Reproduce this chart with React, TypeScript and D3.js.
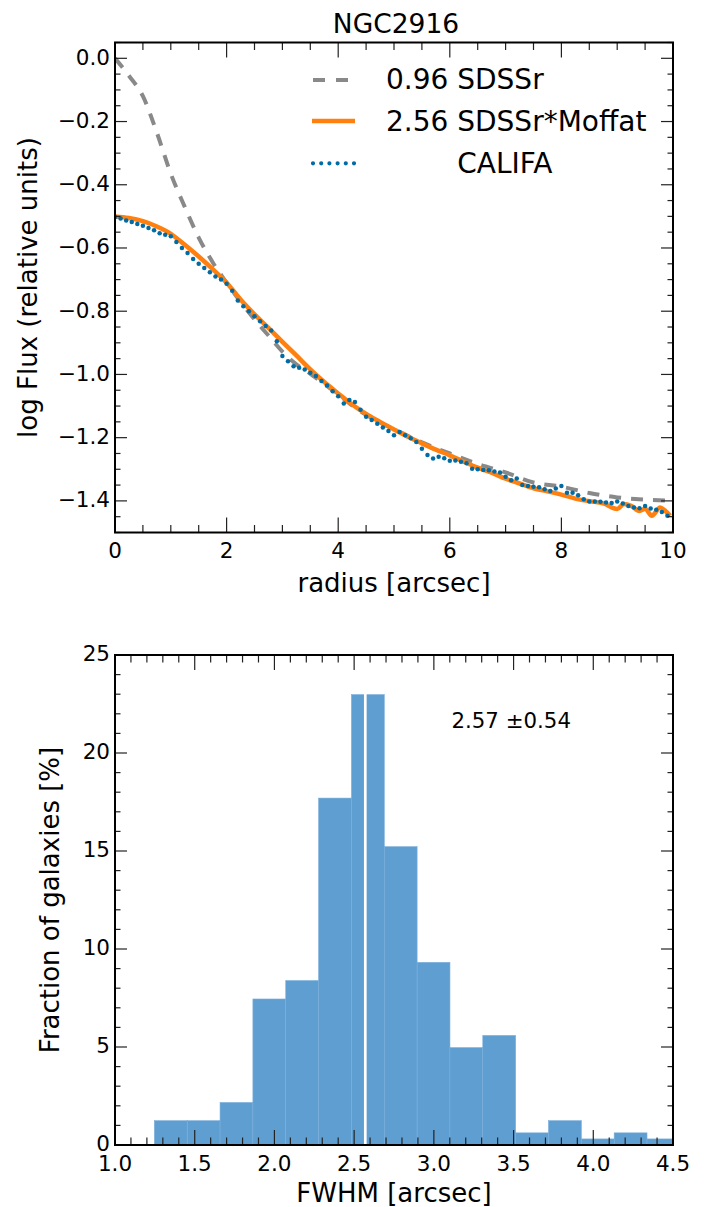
import React from "react";
import * as d3 from "d3";

// ---------- Top panel data (NGC2916 radial profile) ----------
const califaRadius = [
  0.0, 0.1, 0.2, 0.3, 0.4, 0.5, 0.6, 0.7, 0.8, 0.9,
  1.0, 1.1, 1.2, 1.3, 1.4, 1.5, 1.6, 1.7, 1.8, 1.9,
  2.0, 2.1, 2.2, 2.3, 2.4, 2.5, 2.6, 2.7, 2.8, 2.9,
  3.0, 3.1, 3.2, 3.3, 3.4, 3.5, 3.6, 3.7, 3.8, 3.9,
  4.0, 4.1, 4.2, 4.3, 4.4, 4.5, 4.6, 4.7, 4.8, 4.9,
  5.0, 5.1, 5.2, 5.3, 5.4, 5.5, 5.6, 5.7, 5.8, 5.9,
  6.0, 6.1, 6.2, 6.3, 6.4, 6.5, 6.6, 6.7, 6.8, 6.9,
  7.0, 7.1, 7.2, 7.3, 7.4, 7.5, 7.6, 7.7, 7.8, 7.9,
  8.0, 8.1, 8.2, 8.3, 8.4, 8.5, 8.6, 8.7, 8.8, 8.9,
  9.0, 9.1, 9.2, 9.3, 9.4, 9.5, 9.6, 9.7, 9.8, 9.9,
];
const califaFlux = [
  -0.502, -0.507, -0.513, -0.518, -0.524, -0.530, -0.537, -0.544, -0.553, -0.558,
  -0.563, -0.581, -0.600, -0.616, -0.635, -0.650, -0.663, -0.677, -0.690, -0.700,
  -0.713, -0.735, -0.766, -0.784, -0.800, -0.816, -0.832, -0.847, -0.861, -0.895,
  -0.942, -0.958, -0.974, -0.979, -0.984, -0.995, -1.005, -1.021, -1.035, -1.053,
  -1.069, -1.092, -1.081, -1.087, -1.112, -1.134, -1.144, -1.156, -1.168, -1.179,
  -1.192, -1.182, -1.192, -1.202, -1.214, -1.235, -1.255, -1.266, -1.260, -1.265,
  -1.273, -1.272, -1.276, -1.281, -1.298, -1.300, -1.302, -1.303, -1.307, -1.310,
  -1.324, -1.335, -1.329, -1.350, -1.353, -1.355, -1.357, -1.363, -1.369, -1.361,
  -1.353, -1.374, -1.374, -1.382, -1.395, -1.402, -1.402, -1.403, -1.405, -1.407,
  -1.402, -1.408, -1.416, -1.421, -1.423, -1.416, -1.424, -1.428, -1.435, -1.447,
];

const moffatRadius = [
  0, 0.25, 0.5, 0.75, 1.0, 1.25, 1.5, 1.75, 2.0, 2.25, 2.5, 2.75, 3.0, 3.25, 3.5,
  3.75, 4.0, 4.25, 4.5, 4.75, 5.0, 5.25, 5.5, 5.75, 6.0, 6.25, 6.5, 6.75, 7.0,
  7.25, 7.5, 7.75, 8.0, 8.25, 8.5, 8.75, 9.0, 9.12, 9.25, 9.4, 9.5, 9.62, 9.77,
  9.85, 9.95,
];
const moffatFlux = [
  -0.5, -0.505, -0.515, -0.532, -0.555, -0.59, -0.627, -0.667, -0.71, -0.763,
  -0.81, -0.853, -0.897, -0.94, -0.984, -1.024, -1.06, -1.095, -1.125, -1.15,
  -1.174, -1.197, -1.218, -1.238, -1.256, -1.276, -1.295, -1.311, -1.33, -1.345,
  -1.36, -1.37, -1.38, -1.393, -1.401, -1.408, -1.426, -1.41, -1.416, -1.432,
  -1.425, -1.447, -1.421, -1.43, -1.447,
];

const sdssRadius = [
  0, 0.25, 0.5, 0.75, 1.0, 1.25, 1.5, 1.75, 2.0, 2.25, 2.5, 2.75, 3.0, 3.25, 3.5,
  3.75, 4.0, 4.25, 4.5, 4.75, 5.0, 5.5, 6.0, 6.5, 7.0, 7.5, 8.0, 8.5, 9.0, 9.5, 10.0,
];
const sdssFlux = [
  0.0, -0.055, -0.12, -0.235, -0.365, -0.47, -0.567, -0.645, -0.71, -0.77,
  -0.826, -0.877, -0.928, -0.968, -0.998, -1.03, -1.063, -1.098, -1.128, -1.152,
  -1.173, -1.215, -1.25, -1.283, -1.31, -1.342, -1.355, -1.375, -1.389, -1.396, -1.4,
];

const legendLabels = ["0.96 SDSSr", "2.56 SDSSr*Moffat", "        CALIFA"];

// ---------- Bottom panel data (FWHM histogram) ----------
const binEdges = [
  1.247, 1.453, 1.659, 1.865, 2.071, 2.277, 2.483, 2.689, 2.895, 3.101, 3.307,
  3.513, 3.719, 3.925, 4.131, 4.337, 4.543,
];
const binFractions = [
  1.24, 1.24, 2.17, 7.45, 8.39, 17.7, 22.98, 15.22, 9.32, 4.97, 5.59, 0.62, 1.24,
  0.31, 0.62, 0.31,
];
const fwhmMean = 2.57;
const fwhmStd = 0.54;

// ---------- styling ----------
const FONT = "'DejaVu Sans', 'Bitstream Vera Sans', sans-serif";
const TICK_FONT = 21.5;
const LABEL_FONT = 26;
const C_BLUE = "#006BA4";
const C_ORANGE = "#FF800E";
const C_GRAY = "#898989";
const C_HIST = "#5F9ED1";

type Box = { left: number; right: number; top: number; bottom: number };

function Frame({
  box, xs, ys, xMajor, xMinor, yMajor, yMinor, xFmt, yFmt,
}: {
  box: Box;
  xs: d3.ScaleLinear<number, number>;
  ys: d3.ScaleLinear<number, number>;
  xMajor: number[]; xMinor: number[]; yMajor: number[]; yMinor: number[];
  xFmt: (v: number) => string; yFmt: (v: number) => string;
}) {
  const tk = "#222";
  const XMAJ = 15, XMIN = 7.5, YMAJ = 12, YMIN = 5.5;
  const els: React.ReactNode[] = [];
  xMinor.forEach((v, i) => {
    const x = xs(v);
    els.push(<line key={"xm" + i} x1={x} x2={x} y1={box.bottom} y2={box.bottom - XMIN} stroke={tk} strokeWidth={1.2} />);
    els.push(<line key={"xmt" + i} x1={x} x2={x} y1={box.top} y2={box.top + XMIN} stroke={tk} strokeWidth={1.2} />);
  });
  xMajor.forEach((v, i) => {
    const x = xs(v);
    els.push(<line key={"xM" + i} x1={x} x2={x} y1={box.bottom} y2={box.bottom - XMAJ} stroke={tk} strokeWidth={1.2} />);
    els.push(<line key={"xMt" + i} x1={x} x2={x} y1={box.top} y2={box.top + XMAJ} stroke={tk} strokeWidth={1.2} />);
    els.push(
      <text key={"xl" + i} x={x} y={box.bottom + 25.5} textAnchor="middle" fontSize={TICK_FONT} fontFamily={FONT} fill="#000">
        {xFmt(v)}
      </text>
    );
  });
  yMinor.forEach((v, i) => {
    const y = ys(v);
    els.push(<line key={"ym" + i} x1={box.left} x2={box.left + YMIN} y1={y} y2={y} stroke={tk} strokeWidth={1.2} />);
    els.push(<line key={"ymr" + i} x1={box.right} x2={box.right - YMIN} y1={y} y2={y} stroke={tk} strokeWidth={1.2} />);
  });
  yMajor.forEach((v, i) => {
    const y = ys(v);
    els.push(<line key={"yM" + i} x1={box.left} x2={box.left + YMAJ} y1={y} y2={y} stroke={tk} strokeWidth={1.2} />);
    els.push(<line key={"yMr" + i} x1={box.right} x2={box.right - YMAJ} y1={y} y2={y} stroke={tk} strokeWidth={1.2} />);
    els.push(
      <text key={"yl" + i} x={box.left - 5} y={y + 6.3} textAnchor="end" fontSize={TICK_FONT} fontFamily={FONT} fill="#000">
        {yFmt(v)}
      </text>
    );
  });
  els.push(
    <rect key="spine" x={box.left} y={box.top} width={box.right - box.left} height={box.bottom - box.top} fill="none" stroke="#000" strokeWidth={2} />
  );
  return <g>{els}</g>;
}

function near(a: number, b: number) {
  return Math.abs(a - b) < 1e-6;
}

export default function App() {
  // ---------- top panel ----------
  const b1: Box = { left: 115, right: 673, top: 42.5, bottom: 532.5 };
  const x1 = d3.scaleLinear().domain([0, 10]).range([b1.left, b1.right]);
  const y1 = d3.scaleLinear().domain([-1.5, 0.05]).range([b1.bottom, b1.top]);
  const x1Major = x1.ticks(5);
  const x1Minor = x1.ticks(20).filter((v) => !x1Major.some((m) => near(m, v)));
  const y1Major = d3.range(-1.4, 0.01, 0.2).map((v) => +v.toFixed(2));
  const y1Minor = y1.ticks(30).filter((v) => !y1Major.some((m) => near(m, v)));

  const line = d3
    .line<[number, number]>()
    .x((d) => x1(d[0]))
    .y((d) => y1(d[1]))
    .curve(d3.curveMonotoneX);
  const sdssPts = sdssRadius.map((r, i) => [r, sdssFlux[i]] as [number, number]);
  const moffatPts = moffatRadius.map((r, i) => [r, moffatFlux[i]] as [number, number]);

  // ---------- bottom panel ----------
  const b2: Box = { left: 115, right: 673, top: 655, bottom: 1145 };
  const x2 = d3.scaleLinear().domain([1.0, 4.5]).range([b2.left, b2.right]);
  const y2 = d3.scaleLinear().domain([0, 25]).range([b2.bottom, b2.top]);
  const x2Major = x2.ticks(7);
  const x2Minor = x2.ticks(35).filter((v) => !x2Major.some((m) => near(m, v)));
  const y2Major = y2.ticks(5);
  const y2Minor = y2.ticks(25).filter((v) => !y2Major.some((m) => near(m, v)));

  const legendRows = [80, 121, 163.3];
  const legendText = [89, 130.7, 172.5];

  return (
    <svg
      width={706}
      height={1207}
      viewBox="0 0 706 1207"
      style={{ position: "absolute", left: 0, top: 0, display: "block", background: "#fff" }}
      fontFamily={FONT}
    >
      <rect x={0} y={0} width={706} height={1207} fill="#fff" />
      <defs>
        <clipPath id="clipTop">
          <rect x={b1.left} y={b1.top} width={b1.right - b1.left} height={b1.bottom - b1.top} />
        </clipPath>
        <clipPath id="clipBot">
          <rect x={b2.left} y={b2.top} width={b2.right - b2.left} height={b2.bottom - b2.top} />
        </clipPath>
      </defs>

      {/* ===== Top panel ===== */}
      <text x={(b1.left + b1.right) / 2 + 2} y={33} textAnchor="middle" fontSize={26.5} fill="#000">
        NGC2916
      </text>
      <g clipPath="url(#clipTop)">
        <path d={line(sdssPts) || ""} fill="none" stroke={C_GRAY} strokeWidth={4} strokeDasharray="12 10" />
        <path d={line(moffatPts) || ""} fill="none" stroke={C_ORANGE} strokeWidth={4.5} strokeLinejoin="round" />
        {califaRadius.map((r, i) => (
          <circle key={"c" + i} cx={x1(r)} cy={y1(califaFlux[i])} r={2.25} fill={C_BLUE} />
        ))}
      </g>

      {/* legend */}
      <line x1={313} x2={355} y1={legendRows[0]} y2={legendRows[0]} stroke={C_GRAY} strokeWidth={4} strokeDasharray="12 11" />
      <line x1={312} x2={355} y1={legendRows[1]} y2={legendRows[1]} stroke={C_ORANGE} strokeWidth={4.5} />
      <line x1={313} x2={354} y1={legendRows[2]} y2={legendRows[2]} stroke={C_BLUE} strokeWidth={4.2} strokeDasharray="0 8.2" strokeLinecap="round" />
      {legendLabels.map((l, i) => (
        <text key={"lg" + i} x={386} y={legendText[i]} fontSize={28} fill="#000" style={{ whiteSpace: "pre" }}>
          {l}
        </text>
      ))}

      <Frame
        box={b1}
        xs={x1}
        ys={y1}
        xMajor={x1Major}
        xMinor={x1Minor}
        yMajor={y1Major}
        yMinor={y1Minor}
        xFmt={d3.format("d")}
        yFmt={d3.format(".1f")}
      />
      <text x={(b1.left + b1.right) / 2} y={592} textAnchor="middle" fontSize={LABEL_FONT} fill="#000">
        radius [arcsec]
      </text>
      <text transform={`translate(37,${(b1.top + b1.bottom) / 2}) rotate(-90)`} textAnchor="middle" fontSize={LABEL_FONT} fill="#000">
        log Flux (relative units)
      </text>

      {/* ===== Bottom panel ===== */}
      <g clipPath="url(#clipBot)">
        {binFractions.map((f, i) => (
          <rect
            key={"b" + i}
            x={x2(binEdges[i])}
            y={y2(f)}
            width={x2(binEdges[i + 1]) - x2(binEdges[i])}
            height={y2(0) - y2(f)}
            fill={C_HIST}
            stroke="#7aaedb"
            strokeWidth={0.6}
          />
        ))}
        <line x1={x2(fwhmMean)} x2={x2(fwhmMean)} y1={b2.top} y2={b2.bottom} stroke="#fff" strokeWidth={2.7} />
      </g>
      <text x={451.5} y={728} fontSize={21.3} fill="#000">
        {`${fwhmMean.toFixed(2)} ±${fwhmStd.toFixed(2)}`}
      </text>

      <Frame
        box={b2}
        xs={x2}
        ys={y2}
        xMajor={x2Major}
        xMinor={x2Minor}
        yMajor={y2Major}
        yMinor={y2Minor}
        xFmt={d3.format(".1f")}
        yFmt={d3.format("d")}
      />
      <text x={(b2.left + b2.right) / 2} y={1201.5} textAnchor="middle" fontSize={LABEL_FONT} fill="#000">
        FWHM [arcsec]
      </text>
      <text transform={`translate(59,${(b2.top + b2.bottom) / 2}) rotate(-90)`} textAnchor="middle" fontSize={LABEL_FONT} fill="#000">
        Fraction of galaxies [%]
      </text>
    </svg>
  );
}
